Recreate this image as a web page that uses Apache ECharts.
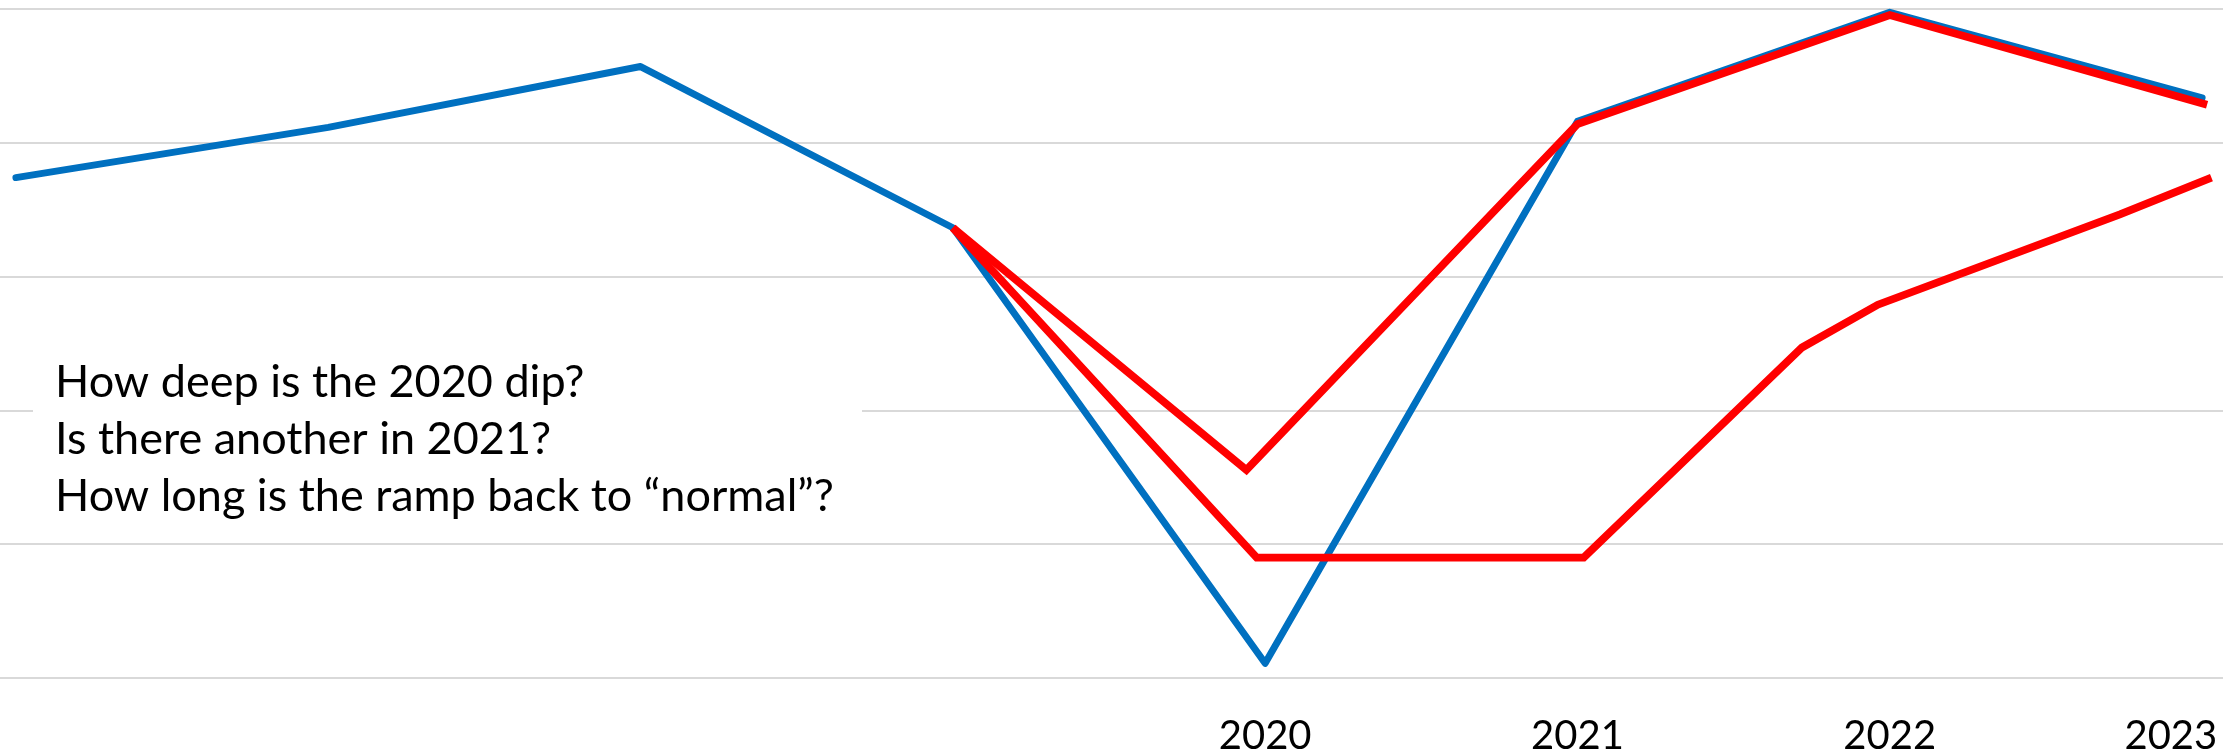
<!DOCTYPE html>
<html>
<head>
<meta charset="utf-8">
<script src="https://cdn.jsdelivr.net/npm/echarts@6/dist/echarts.min.js"></script>
<style>
html,body{margin:0;padding:0;background:#fff;}
#chart{width:2223px;height:756px;}
</style>
</head>
<body>
<div id="chart"></div>
<script>
// ---- data (x in decimal years, y in chart units 0..100) ----
const years = [2016, 2017, 2018, 2019, 2020, 2021, 2022, 2023];
const actual = [74.8, 82.3, 91.4, 67.3, 2.2, 83.2, 99.5, 86.7];

const scenarioAX = [2019, 2019.94, 2021, 2022, 2023.016];
const scenarioA  = [67.3, 31.1, 82.8, 99.1, 85.7];

const scenarioBX = [2019, 2019.973, 2021.02, 2021.719, 2021.962, 2022.737, 2023.03];
const scenarioB  = [67.3, 18.0, 18.0, 49.4, 55.8, 69.3, 74.8];

const tickLabels = ['2020', '2021', '2022', '2023'];
const tickLabelAt = [2020, 2021, 2022, 2022.9];

const questions = [
  'How deep is the 2020 dip?',
  'Is there another in 2021?',
  'How long is the ramp back to \u201Cnormal\u201D?'
];

const zip = (xs, ys) => xs.map((x, i) => [x, ys[i]]);

const chart = echarts.init(document.getElementById('chart'), null, {renderer: 'canvas'});
chart.setOption({
  animation: false,
  backgroundColor: '#ffffff',
  grid: {left: 0, right: 0, top: 9, height: 670, containLabel: false},
  xAxis: {
    type: 'value',
    min: 2015.949,
    max: 2023.067,
    axisLine: {show: false},
    axisTick: {show: false},
    splitLine: {show: false},
    axisLabel: {
      customValues: tickLabelAt,
      formatter: function (v) {
        const i = tickLabelAt.indexOf(v);
        return i >= 0 ? tickLabels[i] : '';
      },
      fontFamily: 'Lato',
      fontSize: 40,
      color: '#000000',
      margin: 38
    }
  },
  yAxis: {
    type: 'value',
    min: 0,
    max: 100,
    interval: 20,
    axisLine: {show: false},
    axisTick: {show: false},
    axisLabel: {show: false},
    splitLine: {show: true, lineStyle: {color: '#d9d9d9', width: 2}}
  },
  series: [
    {
      type: 'line',
      data: zip(years, actual),
      showSymbol: false,
      lineStyle: {color: '#0070C0', width: 7, cap: 'round', join: 'round'},
      z: 2
    },
    {
      type: 'line',
      data: zip(scenarioAX, scenarioA),
      showSymbol: false,
      lineStyle: {color: '#FF0000', width: 7.8, cap: 'butt', join: 'miter'},
      z: 3
    },
    {
      type: 'line',
      data: zip(scenarioBX, scenarioB),
      showSymbol: false,
      lineStyle: {color: '#FF0000', width: 7.8, cap: 'butt', join: 'miter'},
      z: 3
    }
  ],
  graphic: [
    {
      type: 'rect',
      z: 100,
      shape: {x: 33, y: 345, width: 829, height: 190},
      style: {fill: '#ffffff'}
    },
    {
      type: 'text',
      z: 101,
      x: 55,
      y: 354,
      style: {
        text: questions.join('\n'),
        fontFamily: 'Lato',
        fontSize: 45,
        lineHeight: 57,
        fill: '#000000'
      }
    }
  ]
});
</script>
</body>
</html>
